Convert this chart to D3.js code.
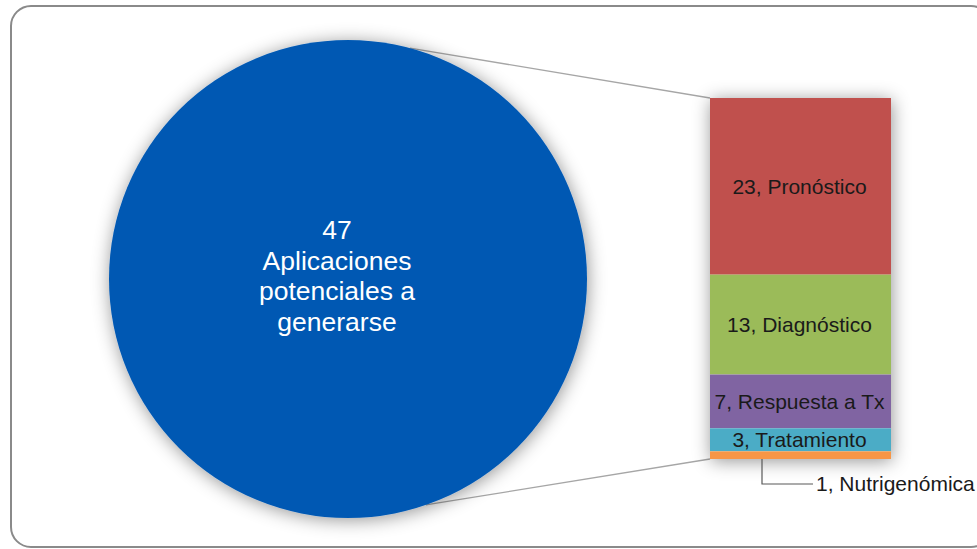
<!DOCTYPE html>
<html>
<head>
<meta charset="utf-8">
<script src="https://cdn.jsdelivr.net/npm/d3@7"></script>
<style>
  html, body { margin: 0; padding: 0; background: #ffffff; }
  svg { display: block; font-family: Arial, "Liberation Sans", sans-serif; }
</style>
</head>
<body>
<svg id="chart" width="977" height="549"></svg>
<script>
// ---- data ----
const mainValue = 47;
const mainLabelLines = ["47", "Aplicaciones", "potenciales a", "generarse"];
const barCategories = ["Pronóstico", "Diagnóstico", "Respuesta a Tx", "Tratamiento", "Nutrigenómica"];
const barValues = [23, 13, 7, 3, 1];
const barColors = ["#C0504D", "#9BBB59", "#8064A2", "#4BACC6", "#F79646"];
const mainColor = "#0459B3";

// ---- layout ----
const svg = d3.select("#chart");

const defs = svg.append("defs");
const f = defs.append("filter").attr("id", "shadow")
  .attr("x", "-25%").attr("y", "-25%").attr("width", "150%").attr("height", "150%");
f.append("feDropShadow").attr("dx", 1).attr("dy", 2).attr("stdDeviation", 9)
  .attr("flood-color", "#000").attr("flood-opacity", 0.42);

// frame
svg.append("rect").attr("x", 11).attr("y", 6).attr("width", 980).attr("height", 541)
  .attr("rx", 20).attr("ry", 20)
  .attr("fill", "#ffffff").attr("stroke", "#8a8a8a").attr("stroke-width", 2);

const cx = 348, cy = 279, R = 239;
const barX0 = 710, barX1 = 891;
const barTop = 98, barBottom = 459;

const total = d3.sum(barValues);
const y = d3.scaleLinear().domain([0, total]).range([barTop, barBottom]);

// connector lines
const topAngle = 15 * Math.PI / 180;
const botAngle = 161 * Math.PI / 180;
const pTop = d3.pointRadial(topAngle, R);
const pBot = d3.pointRadial(botAngle, R);
svg.append("line")
  .attr("x1", cx + pTop[0]).attr("y1", cy + pTop[1])
  .attr("x2", barX0).attr("y2", y(0))
  .attr("stroke", "#a6a6a6").attr("stroke-width", 1.3);
svg.append("line")
  .attr("x1", cx + pBot[0]).attr("y1", cy + pBot[1])
  .attr("x2", barX0).attr("y2", y(total))
  .attr("stroke", "#a6a6a6").attr("stroke-width", 1.3);

// main pie (single slice)
const pie = d3.pie().sort(null)([mainValue]);
const arc = d3.arc().innerRadius(0).outerRadius(R);
const gPie = svg.append("g").attr("transform", `translate(${cx},${cy})`);
gPie.selectAll("path").data(pie).join("path")
  .attr("d", arc)
  .attr("fill", mainColor)
  .attr("filter", "url(#shadow)");

const mainText = svg.append("text")
  .attr("text-anchor", "middle")
  .attr("fill", "#ffffff")
  .attr("font-size", 26.5);
mainLabelLines.forEach((t, i) => {
  mainText.append("tspan").attr("x", 337).attr("y", 239 + i * 30.5).text(t);
});

// stacked bar
let cum = 0;
const stack = barValues.map((v, i) => {
  const d = { cat: barCategories[i], value: v, y0: cum, y1: cum + v, color: barColors[i] };
  cum += v;
  return d;
});

const gBar = svg.append("g");
gBar.append("rect")
  .attr("x", barX0).attr("y", y(0)).attr("width", barX1 - barX0).attr("height", y(total) - y(0))
  .attr("fill", "#ffffff").attr("filter", "url(#shadow)");
gBar.selectAll("rect.seg").data(stack).join("rect")
  .attr("class", "seg")
  .attr("x", barX0).attr("width", barX1 - barX0)
  .attr("y", d => y(d.y0)).attr("height", d => y(d.y1) - y(d.y0))
  .attr("fill", d => d.color);

// labels inside segments (all but the last)
gBar.selectAll("text.lab").data(stack.slice(0, 4)).join("text")
  .attr("class", "lab")
  .attr("x", (barX0 + barX1) / 2 - 1)
  .attr("y", d => (y(d.y0) + y(d.y1)) / 2)
  .attr("dy", "0.35em")
  .attr("text-anchor", "middle")
  .attr("font-size", 21)
  .attr("fill", "#1a1a1a")
  .text(d => `${d.value}, ${d.cat}`);

// leader for smallest segment
const last = stack[stack.length - 1];
const lx = 762, ly = 484;
svg.append("path")
  .attr("d", `M${lx},${y(last.y1)} V${ly} H${813}`)
  .attr("fill", "none").attr("stroke", "#595959").attr("stroke-width", 1.2);
svg.append("text")
  .attr("x", 816).attr("y", ly).attr("dy", "0.35em")
  .attr("font-size", 21).attr("fill", "#1a1a1a")
  .text(`${last.value}, ${last.cat}`);
</script>
</body>
</html>
